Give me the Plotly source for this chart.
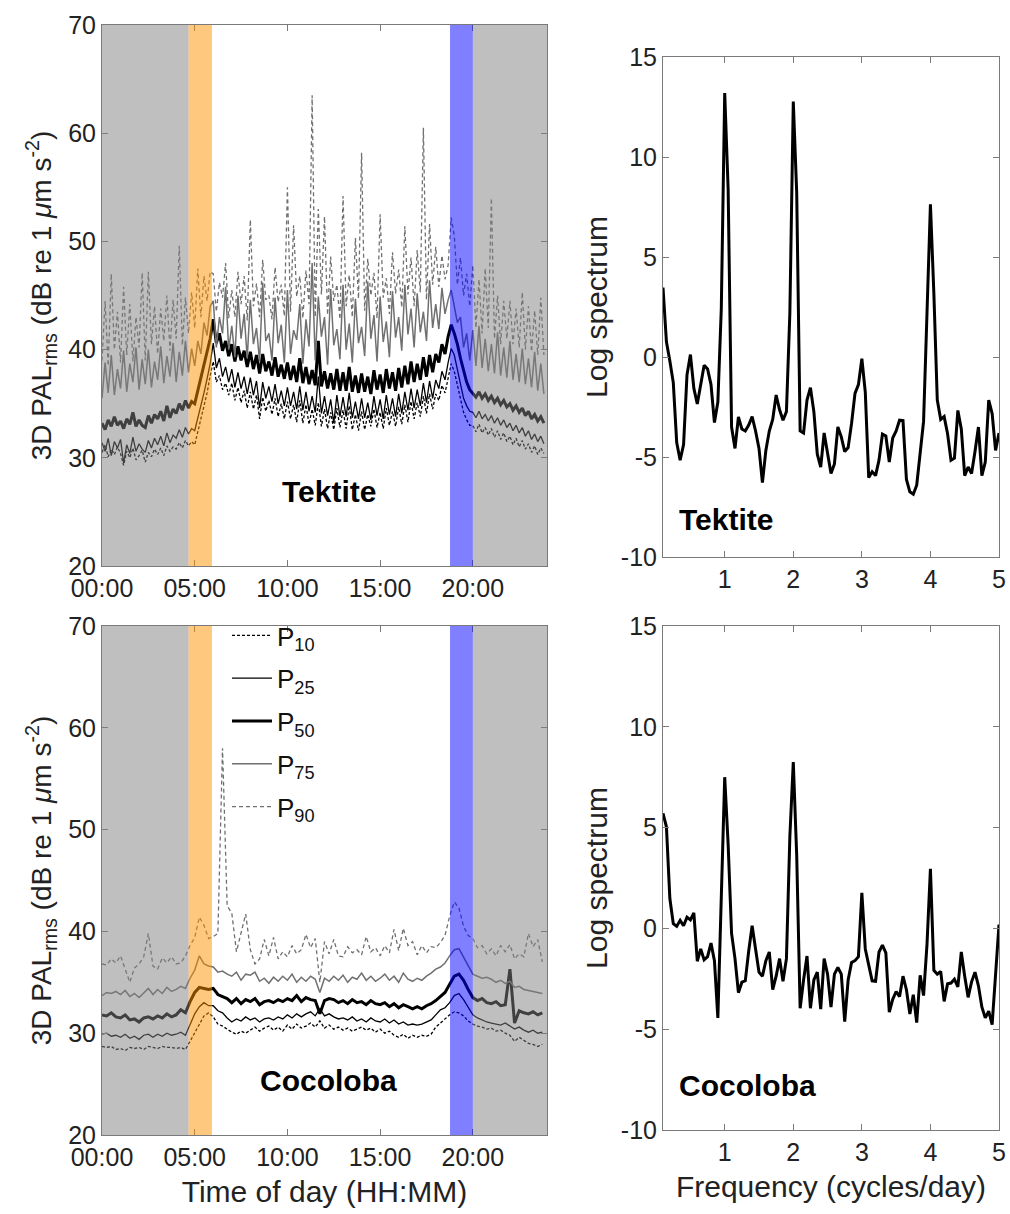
import plotly.graph_objects as go

# ---------------- Data ----------------
# Tektite: 10-min samples (144 per day)
tek_p50 = [33.2, 32.6, 33.5, 32.9, 33.8, 33.0, 33.4, 32.7, 33.6, 33.1, 34.2, 32.9,
           33.5, 33.0, 32.8, 33.9, 33.2, 34.0, 33.6, 34.3, 33.4, 34.8, 33.7, 34.5,
           34.1, 35.0, 34.4, 35.3, 34.6, 35.2, 35.0, 36.2, 37.5, 38.6, 39.8, 41.0,
           42.8, 40.6, 41.5, 39.9, 40.8, 39.4, 40.5, 38.9, 40.3, 39.0, 39.9, 38.4,
           39.8, 38.2, 39.5, 37.8, 39.6, 38.0, 38.9, 37.6, 39.3, 37.5, 38.6, 37.3,
           38.8, 37.2, 38.5, 37.0, 39.2, 36.9, 38.4, 36.8, 38.1, 36.7, 40.8, 36.6,
           38.0, 36.4, 37.8, 36.3, 38.2, 36.2, 37.9, 36.2, 38.4, 36.1, 37.6, 36.0,
           37.8, 36.1, 37.5, 35.9, 38.1, 36.3, 37.7, 36.0, 38.2, 36.4, 37.9, 36.2,
           38.3, 36.5, 38.5, 36.8, 38.9, 37.0, 38.7, 37.2, 39.3, 37.5, 39.5, 37.9,
           39.6, 38.8, 40.5, 39.6, 41.2, 42.3, 41.5, 40.5, 39.2, 38.0, 37.0, 36.3,
           36.0, 35.6, 36.1, 35.5, 35.9, 35.3, 35.7, 35.1, 35.5, 34.9, 35.3, 34.7,
           35.0, 34.4, 34.8, 34.2, 34.6, 33.9, 34.3, 33.6, 34.0, 33.4, 33.8, 33.2]
tek_p25 = [31.4, 30.6, 31.8, 30.2, 31.5, 30.9, 31.7, 29.5, 31.2, 30.4, 31.9, 30.6,
           31.3, 30.8, 30.5, 31.6, 30.9, 31.8, 31.2, 32.0, 31.1, 32.3, 31.4, 32.1,
           31.8, 32.6, 31.9, 32.8, 32.2, 32.7, 32.5, 33.6, 34.8, 36.0, 37.3, 38.7,
           40.6, 38.3, 39.2, 37.5, 38.4, 37.0, 38.2, 36.5, 37.9, 36.4, 37.5, 35.9,
           37.4, 35.8, 37.1, 34.6, 37.0, 35.5, 36.6, 35.2, 36.8, 35.0, 36.2, 34.8,
           36.5, 34.8, 36.1, 34.5, 36.6, 34.4, 36.1, 34.3, 35.7, 34.2, 37.5, 34.1,
           35.7, 33.9, 35.4, 33.2, 35.8, 33.8, 35.6, 33.8, 36.0, 33.7, 35.2, 33.6,
           35.5, 33.7, 35.1, 33.5, 35.7, 33.9, 35.4, 33.6, 35.8, 34.0, 35.5, 33.8,
           35.9, 34.1, 36.1, 34.4, 36.4, 34.6, 36.3, 34.8, 36.9, 35.1, 37.1, 35.5,
           37.2, 36.4, 38.0, 37.2, 38.8, 40.1, 39.5, 38.2, 36.8, 35.5, 34.8, 34.3,
           34.2, 33.7, 34.3, 33.6, 34.0, 33.4, 33.9, 33.2, 33.7, 33.0, 33.5, 32.8,
           33.2, 32.5, 33.0, 32.3, 32.8, 32.0, 32.5, 31.7, 32.2, 31.5, 32.0, 31.3]
tek_p10 = [30.5, 31.2, 30.1, 30.8, 30.3, 31.0, 30.4, 29.3, 30.6, 30.0, 30.9, 29.8,
           30.2, 30.7, 29.6, 30.5, 30.1, 30.8, 30.3, 30.9, 30.2, 31.1, 30.6, 31.0,
           30.8, 31.4, 30.9, 31.6, 31.1, 31.5, 31.2, 32.4, 33.5, 34.8, 36.0, 37.6,
           38.9, 37.0, 37.6, 36.3, 36.9, 35.8, 36.9, 35.3, 36.5, 35.1, 36.2, 34.6,
           36.1, 34.5, 35.8, 33.6, 35.6, 34.3, 35.3, 34.0, 35.5, 33.8, 35.0, 33.6,
           35.2, 33.6, 34.9, 33.3, 35.3, 33.2, 34.9, 33.1, 34.5, 33.0, 35.1, 32.9,
           34.5, 32.7, 34.2, 32.6, 34.6, 32.8, 34.4, 32.7, 34.8, 32.6, 34.0, 32.5,
           34.3, 32.6, 34.0, 32.9, 34.5, 32.8, 34.2, 32.7, 34.6, 33.0, 34.3, 32.9,
           34.7, 33.1, 34.9, 33.3, 35.2, 33.6, 35.1, 33.8, 35.7, 34.1, 35.9, 34.5,
           35.9, 35.3, 36.7, 36.0, 37.4, 38.7, 38.0, 36.7, 35.3, 34.2, 33.5, 33.0,
           33.0, 32.4, 33.1, 32.3, 32.8, 32.1, 32.7, 31.9, 32.5, 31.7, 32.3, 31.5,
           32.0, 31.2, 31.8, 31.0, 31.6, 30.8, 31.3, 30.5, 31.1, 30.3, 30.9, 30.4]
tek_p75 = [35.5, 38.8, 36.0, 39.5, 35.8, 38.2, 36.4, 39.9, 36.1, 38.7, 37.0, 40.2,
           36.3, 39.1, 36.8, 40.0, 36.5, 38.9, 37.2, 40.3, 36.9, 39.4, 37.5, 40.6,
           37.0, 39.8, 37.6, 40.8, 37.9, 40.1, 38.5, 40.8, 39.6, 42.5, 41.3, 44.0,
           44.5, 40.2, 43.0, 41.5, 45.8, 40.0, 42.2, 39.3, 45.0, 41.0, 43.3, 39.2,
           44.6, 40.5, 42.0, 38.9, 46.2, 40.8, 41.5, 39.0, 44.8, 40.6, 42.3, 38.8,
           45.5, 39.6, 41.8, 40.9, 44.2, 38.7, 42.8, 40.3, 48.0, 39.0, 44.9, 41.2,
           43.0, 38.6, 45.6, 40.4, 41.9, 39.1, 46.0, 40.0, 42.4, 38.8, 44.7, 40.6,
           42.1, 39.4, 46.3, 41.0, 43.2, 38.9, 44.9, 40.7, 42.6, 39.3, 45.4, 41.1,
           43.0, 39.9, 46.0, 41.4, 43.8, 40.2, 45.2, 41.6, 43.5, 40.8, 46.4, 42.0,
           44.2, 41.9, 45.7, 43.3, 44.6, 45.5, 44.0, 42.5, 43.0, 40.2, 41.5, 39.0,
           41.8, 38.5, 42.2, 38.3, 41.0, 38.0, 40.5, 37.8, 41.6, 37.6, 40.2, 37.4,
           40.8, 37.2, 39.6, 37.0, 40.1, 36.8, 39.2, 36.5, 39.8, 36.2, 38.7, 35.9]
tek_p90 = [39.0, 44.5, 38.5, 47.0, 40.0, 43.5, 38.8, 45.8, 39.5, 44.2, 38.9, 43.0,
           40.2, 47.1, 39.0, 47.2, 40.5, 44.0, 39.6, 43.8, 40.8, 45.0, 39.9, 44.6,
           41.0, 49.6, 40.4, 44.8, 41.5, 45.3, 42.0, 47.5, 43.0, 46.8, 44.5, 47.2,
           47.0, 43.5, 46.2, 44.8, 48.0, 42.9, 45.5, 43.0, 47.2, 44.2, 46.8, 42.7,
           52.0, 44.0, 46.1, 43.0, 48.3, 44.6, 45.0, 42.8, 47.6, 44.4, 46.0, 43.1,
           55.0, 43.5, 51.5, 44.9, 46.8, 42.9, 47.3, 44.2, 63.5, 43.0, 53.0, 45.1,
           52.3, 43.2, 48.6, 44.5, 46.0, 42.8, 54.2, 44.0, 46.9, 43.0, 50.3, 44.7,
           58.2, 43.6, 48.4, 45.0, 47.1, 42.9, 52.5, 44.8, 46.6, 43.3, 49.0, 45.2,
           47.4, 43.9, 51.4, 45.1, 48.5, 44.0, 49.2, 45.3, 60.5, 44.6, 51.6, 46.0,
           49.5, 45.8, 48.7, 46.5, 47.8, 52.2, 50.5, 46.0, 48.5, 45.0, 47.0, 44.0,
           47.8, 42.0, 46.5, 41.5, 47.5, 42.0, 54.0, 41.0, 45.0, 40.5, 44.5, 41.0,
           44.5, 40.5, 43.8, 40.2, 45.3, 40.0, 44.0, 39.8, 43.6, 39.5, 44.8, 39.5]

# Cocoloba: 15-min samples (96 per day)
coc_p50 = [31.8, 31.7, 32.0, 31.6, 31.5, 31.8, 31.3, 31.4, 31.1, 31.5, 31.6, 31.4,
           31.7, 31.5, 31.9, 31.6, 31.8, 32.3, 32.0, 33.1, 34.0, 34.5, 34.4, 34.3,
           34.4, 33.8, 33.6, 33.4, 33.0, 33.4, 32.9, 33.3, 33.1, 33.4, 32.8, 33.1,
           33.2, 33.0, 33.3, 33.1, 33.4, 33.2, 33.7, 33.1, 33.5, 33.3, 33.2, 31.9,
           33.2, 33.4, 33.3, 33.0, 33.2, 32.9, 33.3, 33.0, 33.1, 32.8, 33.2, 32.9,
           32.8, 33.0, 32.6, 32.9, 32.5, 32.8, 32.6, 32.4, 32.6, 32.4, 32.7, 32.9,
           33.2, 33.6, 34.0, 34.8, 35.6, 35.8, 35.2, 34.3, 33.5, 33.2, 33.4, 33.0,
           32.9, 33.1, 32.7, 32.8, 36.3, 31.0, 32.2, 32.0, 31.9, 32.1, 31.8, 32.0]
coc_p25 = [29.9, 30.0, 29.7, 29.8, 29.6, 29.9, 29.5, 29.7, 29.4, 29.8, 29.9, 29.6,
           29.9, 29.7, 30.0, 29.8, 29.9, 30.1, 29.8, 30.8, 31.9, 32.6, 33.0, 32.7,
           32.7, 32.2, 32.0, 31.5, 31.1, 31.4, 31.2, 31.6, 31.3, 31.5, 31.1, 31.4,
           31.5, 31.3, 31.6, 31.4, 31.8, 31.5, 31.9, 31.6, 31.9, 32.1, 31.7, 32.4,
           31.7, 31.9, 31.6, 31.4, 31.5, 31.3, 31.6, 31.2, 31.4, 31.1, 31.5, 31.2,
           31.1, 31.4, 31.0, 31.3, 30.9, 31.1, 30.8, 30.9, 30.8, 30.9, 31.1, 31.3,
           31.8, 32.3, 32.5, 33.0, 33.7, 33.9, 33.3, 32.5, 31.8, 31.5, 31.3, 31.1,
           31.0, 30.9, 30.8, 31.0, 30.7, 30.4, 30.6, 30.3, 30.1, 30.3, 30.0, 30.1]
coc_p10 = [28.7, 28.6, 28.7, 28.4, 28.5, 28.3, 28.6, 28.5, 28.6, 28.4, 28.7, 28.6,
           28.5, 28.7, 28.6, 28.6, 28.5, 28.6, 28.4, 29.2, 30.0, 30.8, 31.7, 32.0,
           31.6, 30.9, 30.7, 30.4, 30.1, 29.9, 30.2, 30.0, 30.3, 30.6, 30.2, 30.5,
           30.7, 30.3, 30.6, 30.2, 30.8, 30.4, 30.9, 30.5, 30.7, 31.0, 30.6, 31.2,
           30.5, 30.8, 30.4, 30.6, 30.3, 30.5, 30.2, 30.4, 30.6, 30.3, 30.5, 30.1,
           30.4, 30.0, 30.2, 29.8, 29.6, 29.9, 29.5, 29.8, 29.6, 29.8, 29.7, 29.9,
           30.6, 31.0, 31.4, 31.8, 32.1, 32.0, 31.7, 31.2, 30.9, 30.7, 30.6, 30.4,
           30.5, 30.2, 30.3, 30.0, 29.8, 29.2, 29.6, 29.3, 29.0, 28.9, 28.7, 28.9]
coc_p75 = [33.7, 34.0, 33.9, 34.1, 33.8, 34.2, 33.6, 33.9, 33.5, 34.0, 34.4, 33.8,
           34.3, 33.9, 34.5, 34.1, 34.3, 34.6, 34.4, 35.4, 36.2, 37.6, 36.8, 36.6,
           36.5, 36.0, 36.1, 35.8, 35.6, 36.0, 35.2, 35.8, 35.7, 36.0, 35.1, 35.4,
           34.9, 35.5, 35.1, 35.6, 35.2, 35.8, 35.0, 35.5, 35.1, 35.6, 35.3, 34.0,
           35.4, 35.1, 35.6, 35.2, 35.7, 35.0, 35.5, 35.3, 35.9, 35.2, 35.6, 35.1,
           35.4, 35.8, 35.2, 35.6, 35.0, 35.9, 35.3, 35.1, 35.4, 35.2, 35.6, 35.9,
           36.3, 36.5, 36.9, 37.6, 38.2, 38.3, 37.5, 36.6, 35.8, 35.6, 35.4, 35.5,
           35.3, 35.0, 35.2, 34.9, 35.1, 34.5, 34.6, 34.3, 34.2, 34.1, 34.0, 33.9]
coc_p90 = [36.8, 36.7, 37.3, 36.9, 37.6, 36.2, 35.0, 36.4, 36.8, 37.5, 39.8, 36.6,
           36.3, 37.4, 36.9, 37.5, 36.8, 36.9, 37.6, 38.6, 39.4, 41.4, 40.6, 39.3,
           39.5, 39.8, 58.0, 42.5, 41.8, 38.0, 39.8, 41.7, 38.2, 36.8, 37.3, 39.2,
           37.6, 39.4, 37.3, 38.0, 37.5, 38.6, 37.8, 38.2, 39.7, 38.4, 39.3, 35.0,
           39.0, 37.8, 39.2, 37.6, 37.5, 38.5, 37.9, 38.2, 37.7, 39.5, 38.0, 38.4,
           37.6, 38.6, 37.9, 40.2, 38.1, 40.3, 38.6, 39.0, 37.7, 38.6, 37.9, 38.5,
           38.4, 38.9, 39.6, 41.5, 42.9, 42.3, 40.5, 39.6, 39.3, 38.4, 38.6, 37.8,
           38.3, 37.6, 38.6, 38.0, 38.7, 37.3, 37.8, 37.5, 39.8, 38.5, 39.2, 37.0]

# Log spectra: frequencies 0.10 .. 5.00 cycles/day, step 0.05
tek_spec = [3.47, 0.76, -0.2, -1.28, -4.28, -5.16, -4.38, -0.89, 0.12, -1.57,
            -2.35, -1.38, -0.41, -0.6, -1.38, -3.28, -2.25, 2.4, 13.2, 8.4,
            -3.5, -4.57, -3.0, -3.6, -3.7, -3.4, -2.98, -3.7, -4.57, -6.28,
            -4.67, -3.7, -3.12, -1.9, -2.64, -3.16, -2.73, 2.2, 12.77, 8.2,
            -3.7, -3.8, -2.15, -1.53, -2.73, -4.86, -5.5, -3.8, -4.77, -5.83,
            -5.35, -3.5, -3.99, -4.73, -4.53, -3.31, -1.82, -1.38, -0.08, -1.76,
            -6.03, -5.74, -5.93, -5.16, -3.86, -3.95, -5.25, -4.05, -3.7, -3.16,
            -3.18, -6.12, -6.74, -6.86, -6.41, -4.96, -3.22, 2.2, 7.64, 3.18,
            -2.15, -3.12, -2.98, -3.84, -5.16, -5.06, -2.67, -3.6, -5.93, -5.5,
            -5.83, -4.73, -3.5, -5.93, -5.25, -2.15, -2.83, -4.67, -3.8]
coc_spec = [5.71, 5.04, 1.48, 0.23, 0.1, 0.4, 0.13, 0.56, 0.42, 0.77,
            -1.63, -1.02, -1.56, -1.4, -0.73, -1.6, -4.44, 1.29, 7.5, 4.17,
            -0.25, -1.5, -3.19, -2.67, -2.6, -1.12, 0.13, -1.02, -2.17, -2.37,
            -1.6, -1.17, -3.04, -2.37, -1.5, -2.62, -1.5, 4.56, 8.25, 3.6,
            -3.96, -2.56, -1.37, -3.96, -2.56, -2.17, -4.0, -1.5, -2.27, -3.9,
            -2.27, -1.94, -2.27, -4.63, -2.56, -1.69, -1.6, -1.4, 1.77, -1.02,
            -1.88, -2.6, -2.62, -1.17, -0.83, -1.21, -4.15, -3.52, -3.13, -3.38,
            -2.37, -3.04, -4.25, -3.29, -4.67, -2.33, -3.33, -0.79, 2.96, -2.08,
            -2.27, -2.13, -3.62, -2.75, -2.71, -2.52, -2.9, -1.17, -2.37, -3.42,
            -2.65, -2.17, -2.85, -3.9, -4.44, -4.1, -4.77, -2.17, 0.19]

tek_hours = [i / 6 for i in range(len(tek_p50))]
coc_hours = [i / 4 for i in range(len(coc_p50))]
freqs = [round(0.10 + 0.05 * i, 2) for i in range(len(tek_spec))]

time_tickvals = [0, 5, 10, 15, 20]
time_ticktext = ["00:00", "05:00", "10:00", "15:00", "20:00"]
spec_tickvals = [-10, -5, 0, 5, 10, 15]
spec_ticktext = ["-10", "-5", "0", "5", "10", "15"]
legend_names = ["P<sub>10</sub>", "P<sub>25</sub>", "P<sub>50</sub>", "P<sub>75</sub>", "P<sub>90</sub>"]

# Shading periods (hours)
night1 = (0, 4.67)
dawn = (4.67, 5.93)
dusk = (18.77, 20.0)
night2 = (20.0, 24.0)

# ---------------- Figure ----------------
W, H = 1010, 1214
FONT = "Liberation Sans, Arial, sans-serif"

def xd(a, b):
    return [a / W, b / W]

def yd(top, bottom):
    return [1 - bottom / H, 1 - top / H]

fig = go.Figure()

styles = [
    dict(color="black", width=1.3, dash="3px,2px"),
    dict(color="black", width=1.3),
    dict(color="black", width=3),
    dict(color="#707070", width=1.5),
    dict(color="#707070", width=1.3, dash="4px,3px"),
]

for series, xa, ya, show in [
    ([tek_p10, tek_p25, tek_p50, tek_p75, tek_p90], "x", "y", False),
    ([coc_p10, coc_p25, coc_p50, coc_p75, coc_p90], "x2", "y2", True),
]:
    hrs = tek_hours if xa == "x" else coc_hours
    for k, s in enumerate(series):
        fig.add_trace(go.Scatter(
            x=hrs, y=s, mode="lines", line=styles[k], name=legend_names[k],
            xaxis=xa, yaxis=ya, showlegend=show, legendgroup="g%d" % k,
        ))

fig.add_trace(go.Scatter(x=freqs, y=tek_spec, mode="lines",
                         line=dict(color="black", width=3), xaxis="x3", yaxis="y3",
                         showlegend=False))
fig.add_trace(go.Scatter(x=freqs, y=coc_spec, mode="lines",
                         line=dict(color="black", width=3), xaxis="x4", yaxis="y4",
                         showlegend=False))

shapes = []
for xr, yr in [("x", "y"), ("x2", "y2")]:
    for (a, b), col in [(night1, "#808080"), (night2, "#808080"),
                        (dawn, "#FF9200"), (dusk, "#0000FF")]:
        shapes.append(dict(type="rect", xref=xr, yref=yr + " domain", x0=a, x1=b,
                           y0=0, y1=1, fillcolor=col, opacity=0.5,
                           line=dict(width=0), layer="above"))

TICK = 25
axis_common = dict(showline=True, mirror="ticks", linecolor="#7a7a7a", linewidth=1,
                   ticks="inside", ticklen=6, tickcolor="#7a7a7a", automargin=False,
                   tickfont=dict(family=FONT, size=TICK, color="#222"),
                   showgrid=False, zeroline=False)

ytitle = "3D PAL<sub>rms</sub> (dB re 1 <i>μ</i>m s<sup>-2</sup>)"
LTF = dict(family=FONT, size=28, color="#222")
TF = dict(family=FONT, size=30, color="#222")

fig.update_layout(
    width=W, height=H, margin=dict(l=0, r=0, t=0, b=0),
    paper_bgcolor="white", plot_bgcolor="white",
    font=dict(family=FONT, color="#222"),
    shapes=shapes,
    xaxis=dict(domain=xd(102, 547), range=[0, 24], tickvals=time_tickvals,
               ticktext=time_ticktext, anchor="y", **axis_common),
    yaxis=dict(domain=yd(25, 566), range=[20, 70], dtick=10, anchor="x",
               title=dict(text=ytitle, font=LTF, standoff=8), **axis_common),
    xaxis2=dict(domain=xd(102, 547), range=[0, 24], tickvals=time_tickvals,
                ticktext=time_ticktext, anchor="y2",
                title=dict(text="Time of day (HH:MM)", font=TF, standoff=10),
                **axis_common),
    yaxis2=dict(domain=yd(626, 1135), range=[20, 70], dtick=10, anchor="x2",
                title=dict(text=ytitle, font=LTF, standoff=8), **axis_common),
    xaxis3=dict(domain=xd(663, 999), range=[0.1, 5], tickvals=[1, 2, 3, 4, 5],
                anchor="y3", **axis_common),
    yaxis3=dict(domain=yd(57, 557), range=[-10, 15], tickvals=spec_tickvals,
                ticktext=spec_ticktext, anchor="x3",
                title=dict(text="Log spectrum", font=TF, standoff=4), **axis_common),
    xaxis4=dict(domain=xd(663, 999), range=[0.1, 5], tickvals=[1, 2, 3, 4, 5],
                anchor="y4",
                title=dict(text="Frequency (cycles/day)", font=TF, standoff=10),
                **axis_common),
    yaxis4=dict(domain=yd(626, 1130), range=[-10, 15], tickvals=spec_tickvals,
                ticktext=spec_ticktext, anchor="x4",
                title=dict(text="Log spectrum", font=TF, standoff=4), **axis_common),
    legend=dict(x=227 / W, y=1 - 612 / H, xanchor="left", yanchor="top",
                bgcolor="rgba(0,0,0,0)", font=dict(family=FONT, size=26, color="#111"),
                tracegroupgap=6, itemwidth=40),
    annotations=[
        dict(text="<b>Tektite</b>", x=12.24, y=26.9, xref="x", yref="y", showarrow=False,
             font=dict(family=FONT, size=30, color="black")),
        dict(text="<b>Cocoloba</b>", x=12.24, y=25.4, xref="x2", yref="y2", showarrow=False,
             font=dict(family=FONT, size=30, color="black")),
        dict(text="<b>Tektite</b>", x=0.3, y=-8.1, xref="x3", yref="y3", showarrow=False,
             xanchor="left", font=dict(family=FONT, size=30, color="black")),
        dict(text="<b>Cocoloba</b>", x=0.3, y=-7.8, xref="x4", yref="y4", showarrow=False,
             xanchor="left", font=dict(family=FONT, size=30, color="black")),
    ],
)

fig.write_html("out.html")
